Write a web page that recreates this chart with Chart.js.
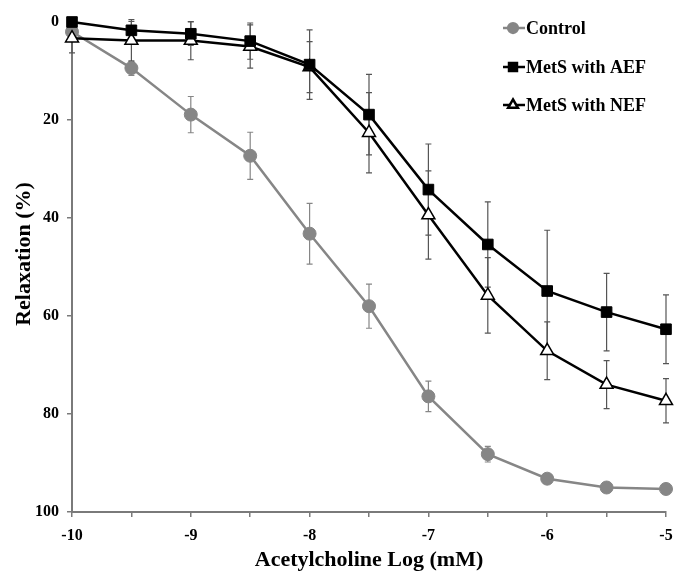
<!DOCTYPE html>
<html>
<head>
<meta charset="utf-8">
<script src="https://cdn.jsdelivr.net/npm/chart.js@4.4.0/dist/chart.umd.min.js"></script>
<style>
  html, body { margin: 0; padding: 0; background: #fff; }
  #wrap { width: 675px; height: 571px; }
</style>
</head>
<body>
<div id="wrap"><canvas id="chart"></canvas></div>
<script>
// log dose of acetylcholine (mM)
const doses = [-10, -9.5, -9, -8.5, -8, -7.5, -7, -6.5, -6, -5.5, -5];

const control    = [2.0, 9.4, 18.9, 27.3, 43.2, 58.0, 76.4, 88.2, 93.2, 95.0, 95.3];
const controlErr = [1.0, 1.5, 3.7, 4.8, 6.2, 4.5, 3.1, 1.6, 0.5, 0.3, 0.3];

const aef    = [0.0, 1.7, 2.4, 3.9, 8.7, 18.9, 34.2, 45.4, 54.9, 59.2, 62.7];
const aefErr = [0.0, 1.8, 2.4, 3.7, 7.1, 8.2, 9.3, 8.7, 12.4, 7.9, 7.0];

const nef    = [3.3, 3.8, 3.8, 5.0, 9.2, 22.6, 39.4, 55.8, 67.1, 74.0, 77.3];
const nefErr = [3.0, 4.3, 3.9, 4.4, 5.2, 8.2, 9.0, 7.7, 5.9, 4.9, 4.5];

const yTicks = [0, 20, 40, 60, 80, 100];

const serif = "'Liberation Serif', 'Times New Roman', serif";
const gray = '#868686';

function points(vals) {
  return vals.map((v, i) => ({ x: doses[i], y: v }));
}

// error bars under the lines
const errorBars = {
  id: 'errorBars',
  beforeDatasetsDraw(chart) {
    const { ctx, scales: { x, y } } = chart;
    ctx.save();
    ctx.lineWidth = 1.2;
    chart.data.datasets.forEach(ds => {
      ctx.strokeStyle = ds.errColor;
      ds.data.forEach((p, i) => {
        const e = ds.errors[i];
        if (!e) return;
        const px = x.getPixelForValue(p.x);
        const top = y.getPixelForValue(p.y - e);
        const bot = y.getPixelForValue(p.y + e);
        ctx.beginPath();
        ctx.moveTo(px, top); ctx.lineTo(px, bot);
        ctx.moveTo(px - 3, top); ctx.lineTo(px + 3, top);
        ctx.moveTo(px - 3, bot); ctx.lineTo(px + 3, bot);
        ctx.stroke();
      });
    });
    ctx.restore();
  }
};

// legend with line + marker, and the y title
const extras = {
  id: 'extras',
  afterDraw(chart) {
    const ctx = chart.ctx;
    ctx.save();
    ctx.font = 'bold 18px ' + serif;
    ctx.textBaseline = 'middle';
    ctx.fillStyle = '#000';
    const rows = [28, 67, 105];
    chart.data.datasets.forEach((ds, i) => {
      const yy = rows[i];
      ctx.strokeStyle = ds.borderColor;
      ctx.lineWidth = 2.5;
      ctx.beginPath();
      ctx.moveTo(503, yy); ctx.lineTo(525, yy);
      ctx.stroke();
      ctx.fillStyle = ds.pointBackgroundColor;
      ctx.strokeStyle = ds.pointBorderColor;
      Chart.helpers.drawPoint(ctx, {
        pointStyle: ds.pointStyle, radius: ds.pointRadius * 0.75,
        rotation: 0, borderWidth: ds.pointBorderWidth
      }, 513, yy);
      ctx.fillStyle = '#000';
      ctx.fillText(ds.label, 526, yy + 1);
    });

    ctx.translate(24, 254);
    ctx.rotate(-Math.PI / 2);
    ctx.textAlign = 'center';
    ctx.font = 'bold 22px ' + serif;
    ctx.fillText('Relaxation (%)', 0, 0);
    ctx.restore();
  }
};

new Chart(document.getElementById('chart'), {
  type: 'line',
  data: {
    datasets: [
      {
        label: 'Control',
        data: points(control),
        errors: controlErr,
        errColor: gray,
        borderColor: gray,
        borderWidth: 2.5,
        pointStyle: 'circle',
        pointRadius: 6.5,
        pointBackgroundColor: gray,
        pointBorderColor: gray,
        pointBorderWidth: 1,
        order: 3
      },
      {
        label: 'MetS with AEF',
        data: points(aef),
        errors: aefErr,
        errColor: '#555',
        borderColor: '#000',
        borderWidth: 2.5,
        pointStyle: 'rect',
        pointRadius: 7.5,
        pointBackgroundColor: '#000',
        pointBorderColor: '#000',
        pointBorderWidth: 1,
        order: 1
      },
      {
        label: 'MetS with NEF',
        data: points(nef),
        errors: nefErr,
        errColor: '#555',
        borderColor: '#000',
        borderWidth: 2.5,
        pointStyle: 'triangle',
        pointRadius: 7.5,
        pointBackgroundColor: '#fff',
        pointBorderColor: '#000',
        pointBorderWidth: 1.5,
        order: 2
      }
    ]
  },
  options: {
    responsive: true,
    maintainAspectRatio: false,
    animation: false,
    events: [],
    clip: false,
    elements: { line: { tension: 0 } },
    layout: { padding: { top: 22, right: 8, left: 0, bottom: 0 } },
    plugins: {
      legend: { display: false },
      tooltip: { enabled: false }
    },
    scales: {
      x: {
        type: 'linear',
        min: -10,
        max: -5,
        afterFit(scale) {
          scale.height = 59;
          scale.paddingLeft = 0;
          scale.paddingRight = 0;
        },
        border: { color: '#7a7a7a', width: 2 },
        grid: { drawOnChartArea: false, tickLength: 5, color: '#7a7a7a', lineWidth: 1.5 },
        ticks: {
          stepSize: 0.5,
          autoSkip: false,
          maxRotation: 0,
          padding: 9,
          color: '#000',
          font: { family: serif, size: 16, weight: 'bold' },
          callback: v => Number.isInteger(v) ? String(v) : ''
        },
        title: {
          display: true,
          text: 'Acetylcholine Log (mM)',
          color: '#000',
          padding: { top: 0, bottom: 0 },
          font: { family: serif, size: 22, weight: 'bold', lineHeight: 1 }
        }
      },
      y: {
        reverse: true,
        min: 0,
        max: 100,
        afterFit(scale) { scale.width = 72; },
        afterBuildTicks(scale) { scale.ticks = yTicks.map(v => ({ value: v })); },
        border: { color: '#7a7a7a', width: 2 },
        grid: { drawOnChartArea: false, tickLength: 5, color: '#7a7a7a', lineWidth: 1.5 },
        ticks: {
          padding: 8,
          color: '#000',
          font: { family: serif, size: 16, weight: 'bold' }
        }
      }
    }
  },
  plugins: [errorBars, extras]
});
</script>
</body>
</html>
